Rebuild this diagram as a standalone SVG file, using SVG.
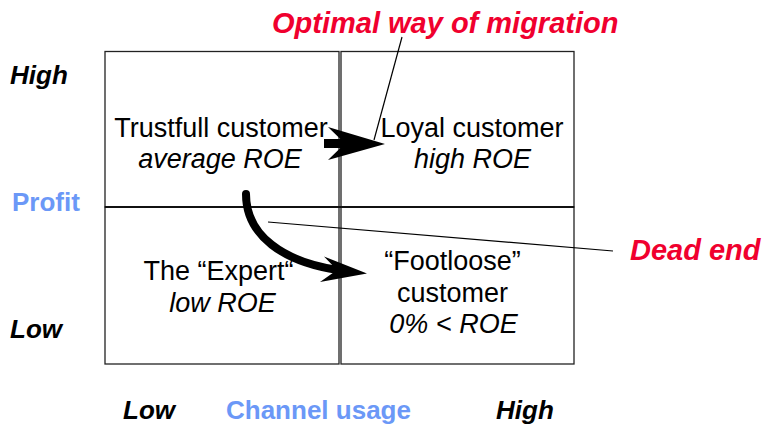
<svg xmlns="http://www.w3.org/2000/svg" width="764" height="426" viewBox="0 0 764 426">
<style>
.cell{fill:#fff;stroke:#222;stroke-width:1.3}
.t{font-family:"Liberation Sans",Arial,sans-serif;font-size:27px;fill:#000;text-anchor:middle}
.i{font-style:italic}
.ax{font-family:"Liberation Sans",Arial,sans-serif;font-size:26px;font-weight:bold;font-style:italic;fill:#000}
.blue{font-family:"Liberation Sans",Arial,sans-serif;font-size:26px;font-weight:bold;fill:#6b98f7}
.red{font-family:"Liberation Sans",Arial,sans-serif;font-size:29px;font-weight:bold;font-style:italic;fill:#f0002e}
.lead{stroke:#000;stroke-width:1.2;fill:none}
</style>
<rect width="764" height="426" fill="#fff"/>
<g id="cell-trustfull">
<rect class="cell" x="105" y="51.5" width="234" height="155.5"/>
<text class="t" x="221" y="137">Trustfull customer</text>
<text class="t i" x="220" y="168">average ROE</text>
</g>
<g id="cell-loyal">
<rect class="cell" x="341" y="51.5" width="233" height="155.5"/>
<text class="t" x="472" y="137">Loyal customer</text>
<text class="t i" x="472.5" y="168">high ROE</text>
</g>
<g id="cell-expert">
<rect class="cell" x="105" y="207" width="234" height="157"/>
<text class="t" x="218.5" y="280">The “Expert“</text>
<text class="t i" x="222.5" y="312">low ROE</text>
</g>
<g id="cell-footloose">
<rect class="cell" x="341" y="207" width="233" height="157"/>
<text class="t" x="452.5" y="270">“Footloose”</text>
<text class="t" x="452.5" y="302">customer</text>
<text class="t i" x="453.5" y="333">0% &lt; ROE</text>
</g>
<line x1="105" y1="207" x2="574" y2="207" stroke="#111" stroke-width="2"/>
<g id="connectors">
<rect x="324" y="139" width="22" height="9" fill="#000"/>
<polygon points="328,127 385,144 328,160 345,143.5" fill="#000"/>
<path d="M246,194 C246,236 284,262 338,270" stroke="#000" stroke-width="8" stroke-linecap="round" fill="none"/>
<polygon points="324,256.5 367,273.5 320,282 337,270" fill="#000"/>
<line class="lead" x1="402" y1="37" x2="374" y2="140"/>
<line class="lead" x1="268" y1="222" x2="613" y2="251"/>
</g>
<g id="labels">
<text class="red" x="272" y="33">Optimal way of migration</text>
<text class="red" x="630" y="260">Dead end</text>
<text class="ax" x="10" y="84">High</text>
<text class="blue" x="12" y="211">Profit</text>
<text class="ax" x="10" y="338">Low</text>
<text class="ax" x="123" y="419">Low</text>
<text class="blue" x="226" y="419">Channel usage</text>
<text class="ax" x="496" y="419">High</text>
</g>
</svg>
